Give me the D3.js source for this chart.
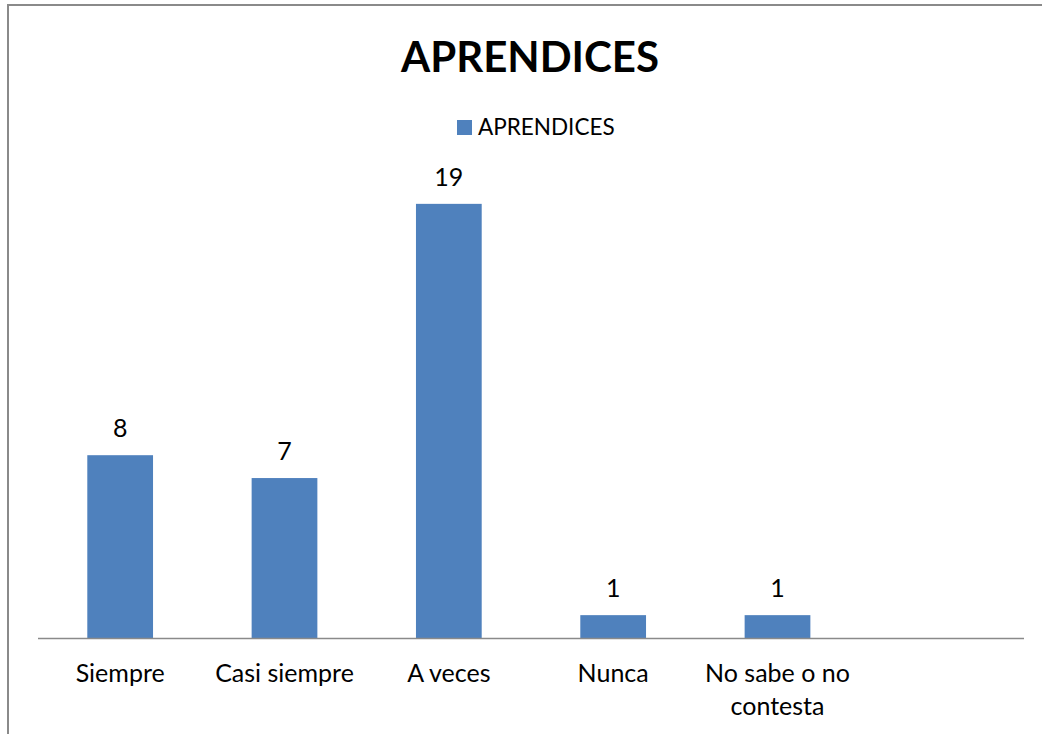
<!DOCTYPE html>
<html>
<head>
<meta charset="utf-8">
<script src="https://cdn.jsdelivr.net/npm/d3@7"></script>
<style>
  body { margin: 0; background: #fff; }
  text { font-family: Lato, "Open Sans", sans-serif; fill: #000; }
</style>
</head>
<body>
<div id="chart"></div>
<script>
const width = 1042;
const height = 734;

// datos
const categories = ['Siempre', 'Casi siempre', 'A veces', 'Nunca', 'No sabe o no contesta', ''];
const values = [8, 7, 19, 1, 1, null];
const seriesName = 'APRENDICES';
const chartTitle = 'APRENDICES';
const yMax = 20;

const barColor = '#4f81bd';
const plotLeft = 38;
const plotRight = 1024;
const plotTop = 181;
const plotBottom = 638;

const svg = d3.select('#chart')
  .append('svg')
  .attr('width', width)
  .attr('height', height);

// marco del gráfico
svg.append('rect')
  .attr('x', 8)
  .attr('y', 5)
  .attr('width', 1200)
  .attr('height', 1000)
  .attr('fill', '#fff')
  .attr('stroke', '#8a8a8a')
  .attr('stroke-width', 2);

// título
svg.append('text')
  .attr('x', 530)
  .attr('y', 72)
  .attr('text-anchor', 'middle')
  .attr('font-size', 42)
  .attr('font-weight', 'bold')
  .text(chartTitle);

// leyenda
const legend = svg.append('g').attr('transform', 'translate(457,120)');
legend.append('rect')
  .attr('width', 15)
  .attr('height', 15)
  .attr('fill', barColor);
legend.append('text')
  .attr('x', 21)
  .attr('y', 15)
  .attr('font-size', 22.5)
  .text(seriesName);

// escalas
const xScale = d3.scaleBand()
  .domain(categories)
  .range([plotLeft, plotRight])
  .paddingInner(0.6)
  .paddingOuter(0.3);

const yScale = d3.scaleLinear()
  .domain([0, yMax])
  .range([plotBottom, plotTop]);

const data = categories.map((c, i) => ({ cat: c, val: values[i] }))
  .filter(d => d.val != null);

// barras
svg.selectAll('.bar')
  .data(data)
  .enter()
  .append('rect')
  .attr('class', 'bar')
  .attr('x', d => xScale(d.cat))
  .attr('y', d => yScale(d.val))
  .attr('width', xScale.bandwidth())
  .attr('height', d => plotBottom - yScale(d.val))
  .attr('fill', barColor);

// etiquetas de valores
svg.selectAll('.labelbar')
  .data(data)
  .enter()
  .append('text')
  .attr('class', 'labelbar')
  .attr('x', d => xScale(d.cat) + xScale.bandwidth() / 2)
  .attr('y', d => yScale(d.val) - 18)
  .attr('text-anchor', 'middle')
  .attr('font-size', 25)
  .text(d => d.val);

// eje X
const xAxis = svg.append('g')
  .attr('transform', `translate(0, ${plotBottom})`)
  .call(d3.axisBottom(xScale).tickSize(0).tickFormat(''));
xAxis.select('.domain').remove();
xAxis.append('line')
  .attr('x1', xScale.range()[0])
  .attr('x2', xScale.range()[1])
  .attr('y1', 0.5)
  .attr('y2', 0.5)
  .attr('stroke', '#8a8a8a')
  .attr('stroke-width', 1.5);

// etiquetas de categorías (con salto de línea)
const lines = {
  'No sabe o no contesta': ['No sabe o no', 'contesta']
};
xAxis.selectAll('.tick').each(function (d) {
  const t = d3.select(this).append('text')
    .attr('text-anchor', 'middle')
    .attr('font-size', 25)
    .attr('fill', '#000');
  (lines[d] || [d]).forEach((l, i) => {
    t.append('tspan')
      .attr('x', 0)
      .attr('y', 44 + i * 33)
      .text(l);
  });
});
</script>
</body>
</html>
